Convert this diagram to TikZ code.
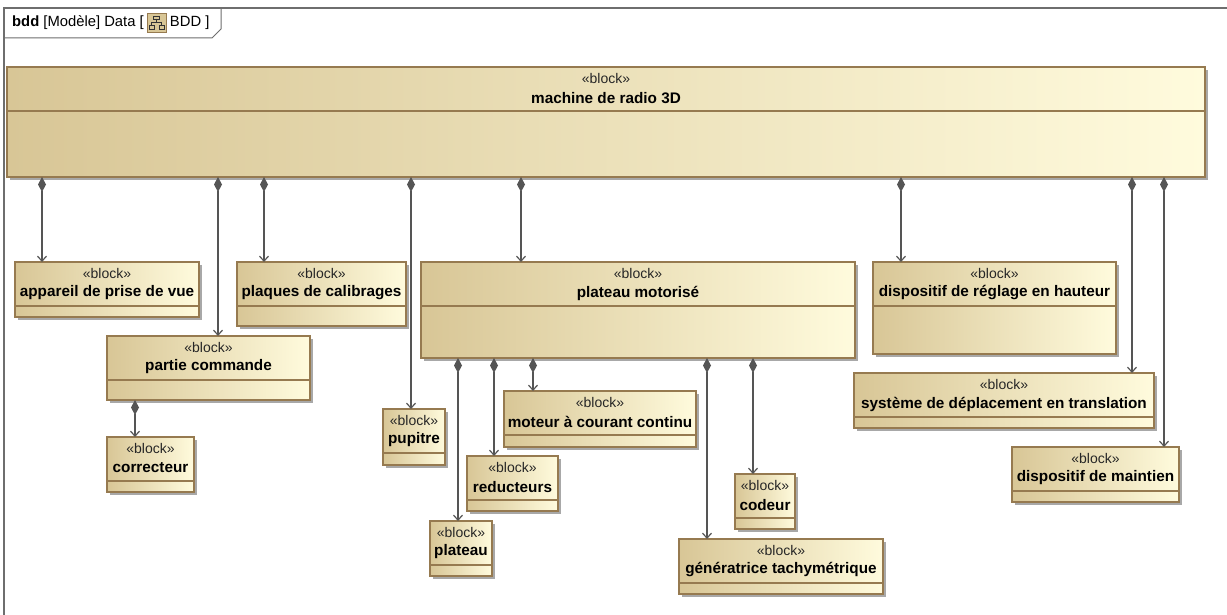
\documentclass[tikz,border=0pt]{standalone}
\usepackage{fontspec}
\setmainfont{Liberation Sans}
\usetikzlibrary{arrows.meta}
\definecolor{bL}{RGB}{216,198,150}
\definecolor{bR}{RGB}{255,251,221}
\definecolor{bord}{RGB}{150,122,80}
\definecolor{lnc}{RGB}{85,85,85}
\definecolor{shd}{RGB}{168,168,168}
\definecolor{frm}{RGB}{110,110,110}
\tikzset{
 blockbox/.style={draw=bord, line width=1.1pt, left color=bL, right color=bR, inner sep=0pt, outer sep=0pt},
 ster/.style={font=\fontsize{14}{16}\selectfont, text=black!85, inner sep=0pt},
 bname/.style={font=\bfseries\fontsize{15.3}{17}\selectfont, inner sep=0pt},
 comp/.style={draw=lnc, line width=1.2pt, {Diamond[length=15pt,width=8pt]}-{Straight Barb[length=5pt,width=9pt]}},
 hdrtext/.style={font=\fontsize{14.8}{17}\selectfont, inner sep=0pt, anchor=west},
}
\newcommand\blk[6]{%
  \fill[shd] (#2+3,#3+3) rectangle (#4+3,#5+3);
  \node[blockbox, minimum width={(#4-#2)*1pt}, minimum height={(#5-#3)*1pt}, anchor=north west] (#1) at (#2,#3) {};
  \draw[bord, line width=1.1pt] (#2,#3+44) -- (#4,#3+44);
  \node[ster] (#1-s) at ([yshift=-11pt]#1.north) {«block»};
  \node[bname] (#1-n) at ([yshift=-31pt]#1.north) {#6};
}
\begin{document}
\begin{tikzpicture}[x=1pt,y=-1pt]
\useasboundingbox (0,0) rectangle (1227,615);
\fill[white] (0,0) rectangle (1227,615);
% frame
\draw[frm, line width=1.6pt] (4,616) -- (4,8) -- (1228,8);
\draw[frm, line width=1pt] (4,38) -- (212,38) -- (221,29) -- (221,8);
\node[hdrtext] (hA) at (12,23) {\textbf{bdd} [Modèle] Data [};
\node[draw=bord, fill=bL, line width=0.8pt, minimum width=19pt, minimum height=19pt, inner sep=0pt, anchor=west] (ico) at ([xshift=3pt]hA.east) {};
\draw[black!80, line width=0.8pt]
  ([xshift=-3pt,yshift=4pt]ico.center) rectangle ([xshift=3pt,yshift=7pt]ico.center)
  ([yshift=4pt]ico.center) -- ([yshift=1pt]ico.center)
  ([xshift=-5pt,yshift=1pt]ico.center) -- ([xshift=5pt,yshift=1pt]ico.center)
  ([xshift=-5pt,yshift=1pt]ico.center) -- ([xshift=-5pt,yshift=-2pt]ico.center)
  ([xshift=5pt,yshift=1pt]ico.center) -- ([xshift=5pt,yshift=-2pt]ico.center)
  ([xshift=-7.5pt,yshift=-2pt]ico.center) rectangle ([xshift=-2.5pt,yshift=-6pt]ico.center)
  ([xshift=2.5pt,yshift=-2pt]ico.center) rectangle ([xshift=7.5pt,yshift=-6pt]ico.center);
\node[hdrtext] (hB) at ([xshift=3pt]ico.east) {BDD ]};
% blocks
\blk{main}{7}{67}{1205}{177}{machine de radio 3D}
\blk{app}{15}{262}{199}{317}{appareil de prise de vue}
\blk{plq}{237}{262}{406}{326}{plaques de calibrages}
\blk{pc}{107}{336}{310}{400}{partie commande}
\blk{cor}{107}{437}{194}{492}{correcteur}
\blk{pup}{383}{409}{445}{465}{pupitre}
\blk{pm}{421}{262}{855}{358}{plateau motorisé}
\blk{mot}{504}{391}{696}{447}{moteur à courant continu}
\blk{red}{467}{456}{558}{511}{reducteurs}
\blk{pla}{430}{521}{492}{576}{plateau}
\blk{cod}{735}{474}{795}{529}{codeur}
\blk{gen}{679}{539}{883}{594}{génératrice tachymétrique}
\blk{reg}{873}{262}{1116}{354}{dispositif de réglage en hauteur}
\blk{sys}{854}{373}{1154}{428}{système de déplacement en translation}
\blk{mai}{1012}{447}{1179}{502}{dispositif de maintien}
% compositions
\draw[comp] (main.south -| 42,0) -- (app.north -| 42,0);
\draw[comp] (main.south -| 218,0) -- (pc.north -| 218,0);
\draw[comp] (main.south -| 264,0) -- (plq.north -| 264,0);
\draw[comp] (main.south -| 411,0) -- (pup.north -| 411,0);
\draw[comp] (main.south -| 521,0) -- (pm.north -| 521,0);
\draw[comp] (main.south -| 901,0) -- (reg.north -| 901,0);
\draw[comp] (main.south -| 1132,0) -- (sys.north -| 1132,0);
\draw[comp] (main.south -| 1164,0) -- (mai.north -| 1164,0);
\draw[comp] (pc.south -| 135,0) -- (cor.north -| 135,0);
\draw[comp] (pm.south -| 458,0) -- (pla.north -| 458,0);
\draw[comp] (pm.south -| 494,0) -- (red.north -| 494,0);
\draw[comp] (pm.south -| 533,0) -- (mot.north -| 533,0);
\draw[comp] (pm.south -| 707,0) -- (gen.north -| 707,0);
\draw[comp] (pm.south -| 753,0) -- (cod.north -| 753,0);
\end{tikzpicture}
\end{document}
